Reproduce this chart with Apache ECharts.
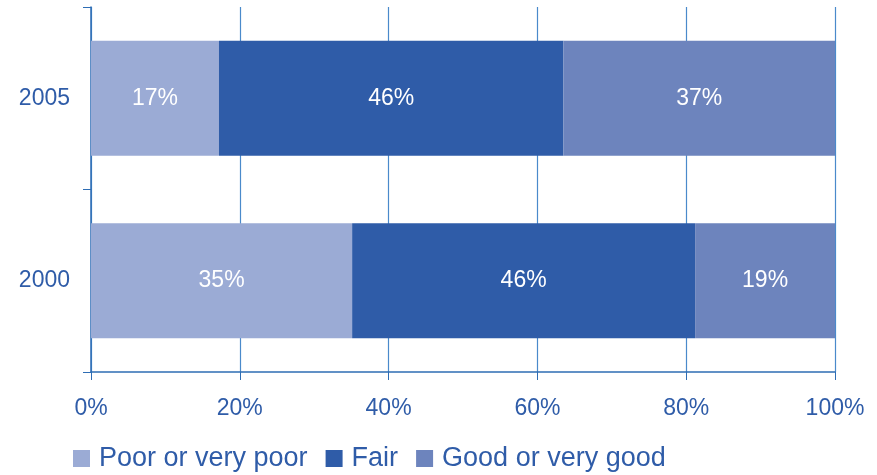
<!DOCTYPE html>
<html>
<head>
<meta charset="utf-8">
<script src="https://cdn.jsdelivr.net/npm/echarts@6/dist/echarts.min.js"></script>
<style>
  html, body { margin: 0; padding: 0; background: #fff; }
  #chart { width: 877px; height: 475px; }
</style>
</head>
<body>
<div id="chart"></div>
<script>
// categories (bottom to top)
const years = ['2000', '2005']
const seriesNames = ['Poor or very poor', 'Fair', 'Good or very good']
// shares in percent
const poor = [35.1, 17.2]
const fair = [46.1, 46.3]
const good = [18.8, 36.5]
const colors = ['#9BABD5', '#2F5CA8', '#6D84BD']
const textBlue = '#2F5CA8'
const lineBlue = '#2E6DB4'

const chart = echarts.init(document.getElementById('chart'))

const makeSeries = (name, data, color) => ({
  name: name,
  type: 'bar',
  stack: 'total',
  data: data,
  barWidth: 115,
  itemStyle: { color: color },
  label: {
    show: true,
    position: 'inside',
    color: '#fff',
    fontFamily: 'Liberation Sans, Arial',
    fontSize: 23,
    formatter: p => Math.round(p.value) + '%'
  }
})

chart.setOption({
  animation: false,
  grid: { left: 91, right: 42, top: 7, bottom: 103 },
  legend: {
    data: seriesNames,
    left: 68,
    top: 440,
    itemWidth: 17,
    itemHeight: 17,
    itemGap: 18,
    icon: 'rect',
    textStyle: {
      color: textBlue,
      fontFamily: 'Liberation Sans, Arial',
      fontSize: 27,
      padding: [0, 0, 0, 4]
    }
  },
  xAxis: {
    type: 'value',
    min: 0,
    max: 100,
    interval: 20,
    axisLine: { show: true, lineStyle: { color: lineBlue, width: 1.5 } },
    axisTick: { show: true, length: 8, lineStyle: { color: lineBlue } },
    splitLine: { show: true, lineStyle: { color: '#4A8ACB', width: 1.2 } },
    axisLabel: {
      color: textBlue,
      fontFamily: 'Liberation Sans, Arial',
      fontSize: 23,
      margin: 25,
      formatter: v => v + '%'
    }
  },
  yAxis: {
    type: 'category',
    data: years,
    axisLine: { show: true, onZero: false, lineStyle: { color: lineBlue, width: 1.5 } },
    axisTick: { show: true, length: 8, lineStyle: { color: lineBlue } },
    axisLabel: {
      color: textBlue,
      fontFamily: 'Liberation Sans, Arial',
      fontSize: 23,
      margin: 21
    }
  },
  series: [
    makeSeries(seriesNames[0], poor, colors[0]),
    makeSeries(seriesNames[1], fair, colors[1]),
    makeSeries(seriesNames[2], good, colors[2])
  ]
})
</script>
</body>
</html>
